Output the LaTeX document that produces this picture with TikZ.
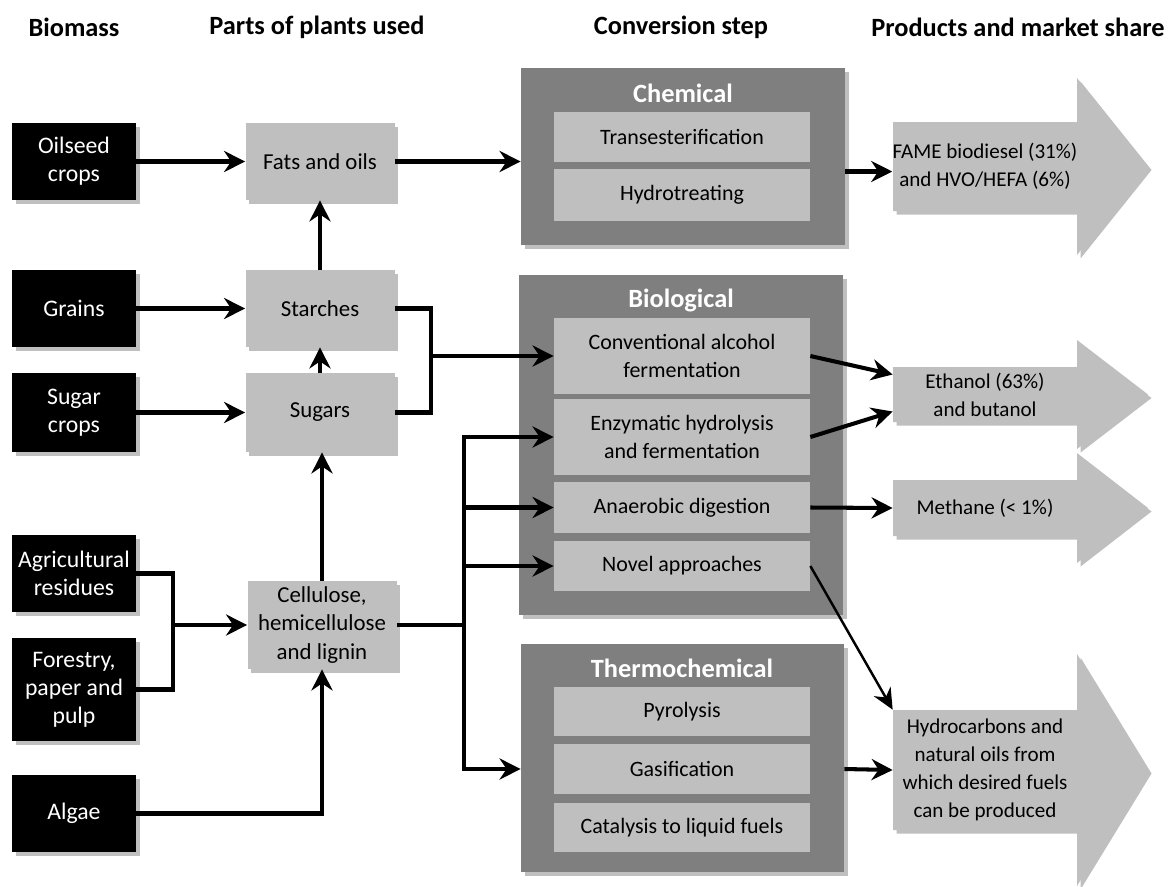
\documentclass[tikz,border=0pt]{standalone}
\usepackage{fontspec}
\setmainfont{Carlito}
\usetikzlibrary{arrows.meta,calc,shadows}
\newlength\px \setlength\px{0.02cm}
\definecolor{lg}{HTML}{BFBFBF}
\definecolor{dg}{HTML}{7F7F7F}
\tikzset{
 shd/.style={drop shadow={shadow xshift=2pt, shadow yshift=-2pt, opacity=0.25, fill=black}},
 biomass/.style={shd, fill=black, text=white, minimum width=124\px, minimum height=77\px, align=center, inner sep=0pt, font=\fontsize{13.5}{16}\selectfont},
 part/.style={shd, fill=lg, text=black, minimum width=149\px, minimum height=77\px, align=center, inner sep=0pt, font=\fontsize{13}{16}\selectfont},
 grp/.style={shd, fill=dg, inner sep=0pt},
 proc/.style={fill=lg, minimum width=256\px, align=center, inner sep=0pt, font=\fontsize{12.5}{16}\selectfont},
 gtitle/.style={text=white, inner sep=0pt, font=\fontsize{15}{18}\selectfont\bfseries},
 header/.style={inner sep=0pt, font=\fontsize{15}{18}\selectfont\bfseries},
 prodarrow/.style={shd, fill=lg},
 prod/.style={minimum width=184\px, align=center, inner sep=0pt, font=\fontsize{12}{16}\selectfont},
 conn/.style={line width=2.3pt, -{Stealth[length=12pt,width=12pt,inset=4pt]}},
 wire/.style={line width=2.3pt},
}
\begin{document}
\begin{tikzpicture}[x=\px, y=-\px]
\useasboundingbox (0,0) rectangle (1172,886);

% headers
\node[header] (h1) at (74,27) {Biomass};
\node[header] (h2) at (317,27) {Parts of plants used};
\node[header] (h3) at (681,27) {Conversion step};
\node[header] (h4) at (1018,27) {Products and market share};

% biomass
\node[biomass] (oil) at (74,161.5) {Oilseed\\crops};
\node[biomass] (grains) at (74,308.5) {Grains};
\node[biomass, minimum height=79\px] (sugarc) at (74,412.5) {Sugar\\crops};
\node[biomass] (agri) at (74,573.5) {Agricultural\\residues};
\node[biomass, minimum height=103\px] (forest) at (74,689.5) {Forestry,\\paper and\\pulp};
\node[biomass] (algae) at (74,813.5) {Algae};

% parts
\node[part] (fats) at (320,161.5) {Fats and oils};
\node[part] (starches) at (320,308.5) {Starches};
\node[part, minimum height=79\px] (sugars) at (320,412.5) {Sugars};
\node[part, minimum height=88\px] (cell) at (322,625) {Cellulose,\\hemicellulose\\and lignin};

% conversion groups
\node[grp, minimum width=324\px, minimum height=177\px] (chem) at (683,156.5) {};
\node[grp, minimum width=324\px, minimum height=340\px] (bio) at (681,445) {};
\node[grp, minimum width=323\px, minimum height=228\px] (thermo) at (682.5,758) {};
\node[gtitle] (chemt) at (683,93) {Chemical};
\node[gtitle] (biot) at (681,300) {Biological};
\node[gtitle] (thermot) at (682,668) {Thermochemical};

\node[proc, minimum height=50\px] (trans) at (682,137) {Transesterification};
\node[proc, minimum height=52\px] (hydrot) at (682,195) {Hydrotreating};
\node[proc, minimum height=76\px] (conv) at (682,356) {Conventional alcohol\\fermentation};
\node[proc, minimum height=76\px] (enz) at (682,437) {Enzymatic hydrolysis\\and fermentation};
\node[proc, minimum height=51\px] (anae) at (682,507.5) {Anaerobic digestion};
\node[proc, minimum height=50\px] (novel) at (682,566) {Novel approaches};
\node[proc, minimum height=49\px] (pyro) at (682,711.5) {Pyrolysis};
\node[proc, minimum height=50\px] (gasi) at (682,769) {Gasification};
\node[proc, minimum height=49\px] (cata) at (682,827.5) {Catalysis to liquid fuels};

% product arrows
\path[prodarrow] (893,122) -- (1077,122) -- (1077,78) -- (1148,166.5) -- (1077,255) -- (1077,211) -- (893,211) -- cycle;
\path[prodarrow] (893,367) -- (1077,367) -- (1077,340) -- (1148,394.5) -- (1077,449) -- (1077,422) -- (893,422) -- cycle;
\path[prodarrow] (893,480) -- (1077,480) -- (1077,453) -- (1148,508) -- (1077,563) -- (1077,536) -- (893,536) -- cycle;
\path[prodarrow] (893,710) -- (1077,710) -- (1077,654) -- (1148,770) -- (1077,886) -- (1077,830) -- (893,830) -- cycle;
\node[prod, minimum height=89\px] (fame) at (985,166.5) {FAME biodiesel (31\%)\\and HVO/HEFA (6\%)};
\node[prod, minimum height=55\px] (eth) at (985,394.5) {Ethanol (63\%)\\and butanol};
\node[prod, minimum height=56\px] (meth) at (985,508) {Methane (< 1\%)};
\node[prod, minimum height=120\px] (hyd) at (985,770) {Hydrocarbons and\\natural oils from\\which desired fuels\\can be produced};

% junction points
\coordinate (j1) at (431,356);
\coordinate (j2) at (173,625);
\coordinate (j3) at (464,625);

% connectors
\draw[conn] (oil.east) -- (fats.west);
\draw[conn] (fats.east) -- (fats.east -| chem.west);
\draw[conn] (starches.north) -- (starches.north |- fats.south);
\draw[conn] (grains.east) -- (starches.west);
\draw[conn] (sugars.north) -- (sugars.north |- starches.south);
\draw[conn] (sugarc.east) -- (sugars.west);
\draw[wire] (starches.east) -| (j1);
\draw[wire] (sugars.east) -| (j1);
\draw[conn] (j1) -- (conv.west);
\draw[wire] (agri.east) -| (j2);
\draw[wire] (forest.east) -| (j2);
\draw[conn] (j2) -- (cell.west);
\draw[conn] (algae.east) -| (cell.south);
\draw[conn] (cell.north) -- (cell.north |- sugars.south);
\draw[wire] (cell.east) -- (j3);
\draw[conn] (j3) |- (enz.west);
\draw[conn] (j3) |- (anae.west);
\draw[conn] (j3) |- (novel.west);
\draw[conn] (j3) |- (thermo.west |- gasi);
\draw[conn] ($(chem.east |- fame.west)+(0,5)$) -- ($(fame.west)+(0,5)$);
\draw[conn] (conv.east) -- ($(eth.west)+(0,-20)$);
\draw[conn] (enz.east) -- ($(eth.west)+(0,17)$);
\draw[conn] (anae.east) -- (meth.west);
\draw[line width=1.4pt, -{Stealth[length=12pt,width=11pt,inset=4pt]}] (novel.east) -- (hyd.north west);
\draw[conn] (thermo.east |- gasi) -- (hyd.west);
\end{tikzpicture}
\end{document}
